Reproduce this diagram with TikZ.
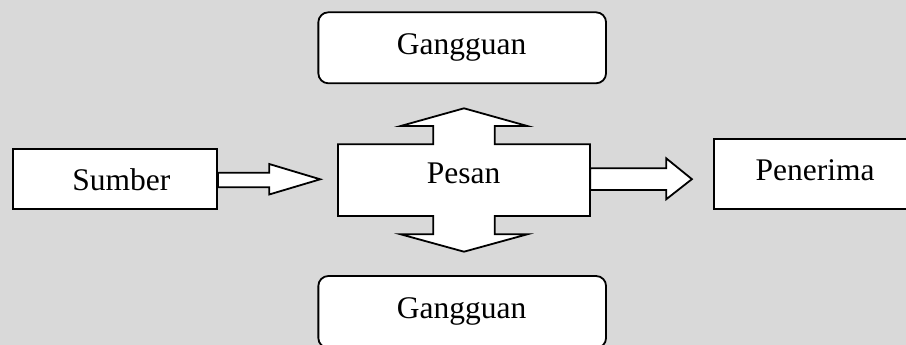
\documentclass[tikz,border=0pt]{standalone}
\usepackage{fontspec}
\setmainfont{Liberation Serif}
\usetikzlibrary{calc}
\definecolor{pagegray}{RGB}{217,217,217}
\begin{document}
\begin{tikzpicture}[x=1pt,y=-1pt,
  box/.style={draw=black, fill=white, line width=1.8pt, inner sep=0pt},
  roundbox/.style={box, rounded corners=10pt},
  txt/.style={font=\fontsize{31.5}{36}\selectfont, anchor=base, inner sep=0pt},
  blockarrow/.style={draw=black, fill=white, line width=1.8pt, line join=miter}]
\useasboundingbox (0,0) rectangle (906,345);
\clip (0,0) rectangle (906,345);
\fill[pagegray] (0,0) rectangle (906,345);

% boxes
\node[box, minimum width=204pt, minimum height=60pt] (sumber) at (115,179) {};
\node[box, minimum width=246pt, minimum height=70pt] (penerima) at (837,174.3) {};
\node[roundbox, minimum width=287.7pt, minimum height=71pt] (atas) at (462.2,47.8) {};
\node[roundbox, minimum width=287.7pt, minimum height=72pt] (bawah) at (462.2,312) {};
\node[inner sep=0pt, minimum width=252pt, minimum height=71.7pt] (pesan) at (464,180.15) {};

% Sumber -> Pesan block arrow
\begin{scope}[shift={(sumber.east)}]
  \draw[blockarrow] (0,-6.3) -- (51.3,-6.3) -- (51.3,-15) -- (102.3,0.3)
    -- (51.3,15.5) -- (51.3,8.3) -- (0,8.3) -- cycle;
\end{scope}

% Pesan -> Penerima block arrow
\begin{scope}[shift={(pesan.east)}]
  \draw[blockarrow] (0,-11.85) -- (76,-11.85) -- (76,-21.85) -- (101.7,-1)
    -- (76,19.15) -- (76,9.85) -- (0,9.85) -- cycle;
\end{scope}

% Pesan with its two-way noise arrows
\begin{scope}[shift={(pesan.center)}]
  \draw[blockarrow] (-126,-35.85) -- (-30.8,-35.85) -- (-30.8,-54.15)
    -- (-63.3,-54.15) -- (0,-71.85) -- (63.3,-54.15) -- (30.8,-54.15)
    -- (30.8,-35.85) -- (126,-35.85) -- (126,35.85) -- (30.8,35.85)
    -- (30.8,54.15) -- (63.3,54.15) -- (0,71.55) -- (-63.3,54.15)
    -- (-30.8,54.15) -- (-30.8,35.85) -- (-126,35.85) -- cycle;
\end{scope}

% labels
\node[txt] (tsumber) at (121.3,190) {Sumber};
\node[txt] (tpesan) at (463.7,183.3) {Pesan};
\node[txt] (tpenerima) at (815,180) {Penerima};
\node[txt] (tatas) at (461.7,55) {Gangguan};
\node[txt] (tbawah) at (461.7,318.3) {Gangguan};
\end{tikzpicture}
\end{document}
